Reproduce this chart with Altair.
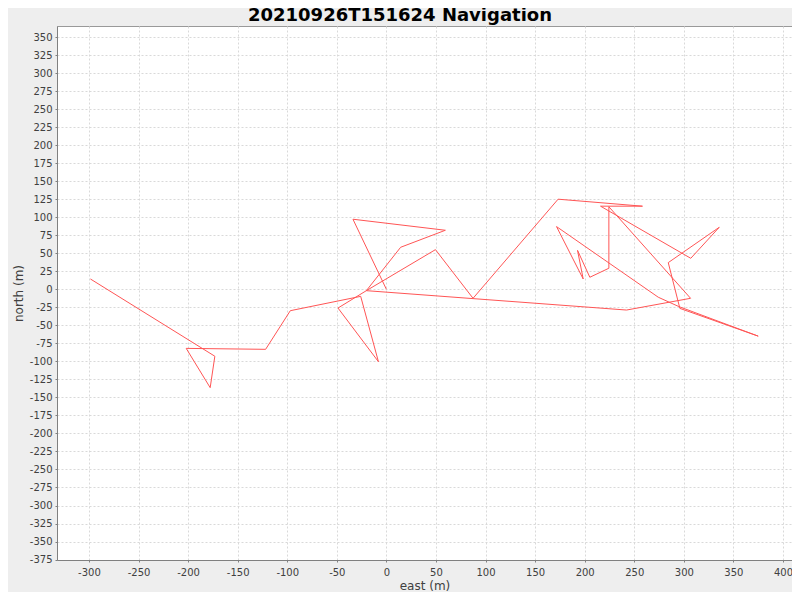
import altair as alt
import pandas as pd

# Navigation track (east, north) in metres, in drawing order
east = [-298.5, -173.0, -177.7, -201.9, -121.8, -96.9, -25.9, -8.0, -48.8, -20.2,
        49.5, 87.4, 173.2, 258.3, 216.0, 307.0, 335.7, 284.3, 296.0, 375.0,
        295.0, 274.2, 171.6, 198.5, 192.8, 205.2, 224.4, 224.4, 306.8, 242.2,
        -20.2, 14.4, 59.5, -33.7, 0.0]
north = [14.3, -92.9, -136.5, -82.0, -83.3, -29.7, -9.8, -100.5, -26.0, -1.9,
         55.0, -12.5, 125.0, 115.3, 115.3, 43.0, 86.0, 37.0, -26.5, -65.0,
         -24.0, -11.0, 87.0, 14.3, 54.0, 16.7, 29.2, 114.5, -12.5, -28.8,
         -1.9, 58.3, 81.9, 97.2, 0.0]
step = list(range(len(east)))

x_ticks = list(range(-300, 401, 50))
y_ticks = list(range(-375, 351, 25))

title_text = "20210926T151624 Navigation"
x_title = "east (m)"
y_title = "north (m)"

df = pd.DataFrame({"step": step, "east": east, "north": north})
title_df = pd.DataFrame({"t": [title_text]})

axis_common = dict(
    domainColor="#808080",
    tickColor="#808080",
    tickSize=2,
    labelFont="DejaVu Sans",
    labelFontSize=10,
    labelColor="#404040",
    labelFlush=False,
    labelOverlap=False,
    titleFont="DejaVu Sans",
    titleFontSize=12,
    titleFontWeight="normal",
    titleColor="#404040",
    gridColor="#D9D9D9",
    gridDash=[2, 2],
    gridWidth=1,
    labelExpr="'' + datum.value",
)

line = alt.Chart(df).mark_line(color="#FF5555", strokeWidth=1, clip=True).encode(
    x=alt.X(
        "east:Q",
        scale=alt.Scale(domain=[-332.2, 409.1], nice=False, zero=False),
        axis=alt.Axis(
            values=x_ticks, title=x_title, labelPadding=5,
            titleX=367.5, titleY=25, titleBaseline="middle", titleAlign="center",
            **axis_common,
        ),
    ),
    y=alt.Y(
        "north:Q",
        scale=alt.Scale(domain=[-375.6, 365.3], nice=False, zero=False),
        axis=alt.Axis(
            values=y_ticks, title=y_title, labelPadding=3,
            titleX=-39, titleY=267, titleAngle=-90, titleBaseline="middle", titleAlign="center",
            **axis_common,
        ),
    ),
    order="step:Q",
)

title = alt.Chart(title_df).mark_text(
    font="DejaVu Sans", fontSize=18, fontWeight="bold", color="black",
    align="center", baseline="alphabetic",
).encode(
    text="t:N",
    x=alt.value(343),
    y=alt.value(-4.6),
)

chart = alt.layer(line, title).properties(
    width=735,
    height=534,
    autosize="none",
    padding={"left": 49, "top": 18, "right": 0, "bottom": 32},
).configure(
    background="#EEEEEE",
).configure_view(
    fill="white",
    stroke="#999999",
    strokeWidth=1,
)

chart.save("out.html", embed_options={"renderer": "svg", "actions": False})
